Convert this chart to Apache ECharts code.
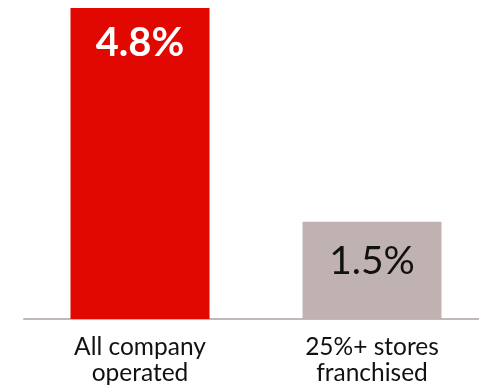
<!DOCTYPE html>
<html><head><meta charset="utf-8">
<script src="https://cdn.jsdelivr.net/npm/echarts@6/dist/echarts.min.js"></script>
<style>html,body{margin:0;padding:0;background:#fff}#c{width:479px;height:388px}</style>
</head><body><div id="c"></div>
<script>
var categories = ['All company\noperated', '25%+ stores\nfranchised'];
var values = [4.8, 1.5];
var barColors = ['#e00800', '#c0b2b1'];
var labelColors = ['#ffffff', '#111111'];
var labelBold = ['bold', 'normal'];

var chart = echarts.init(document.getElementById('c'));
chart.setOption({
  animation: false,
  grid: { left: 24, top: 8, width: 464, bottom: 69, containLabel: false, outerBoundsMode: 'none' },
  xAxis: {
    type: 'category', data: categories,
    axisLine: { lineStyle: { color: '#c3b8b8', width: 2 } },
    axisTick: { show: false },
    axisLabel: { color: '#111', fontFamily: 'Lato', fontSize: 24.5, lineHeight: 26, margin: 15 }
  },
  yAxis: { type: 'value', min: 0, max: 4.8, show: false, splitLine: { show: false } },
  series: [{
    type: 'bar', barWidth: 139,
    data: values.map(function (v, i) {
      return {
        value: v,
        itemStyle: { color: barColors[i] },
        label: {
          show: true, position: 'insideTop', distance: i === 0 ? 15 : 20,
          color: labelColors[i], fontWeight: labelBold[i],
          fontFamily: 'Lato', fontSize: i === 0 ? 40 : 39,
          formatter: function (p) { return p.value.toFixed(1) + '%'; }
        }
      };
    })
  }]
});
</script></body></html>
